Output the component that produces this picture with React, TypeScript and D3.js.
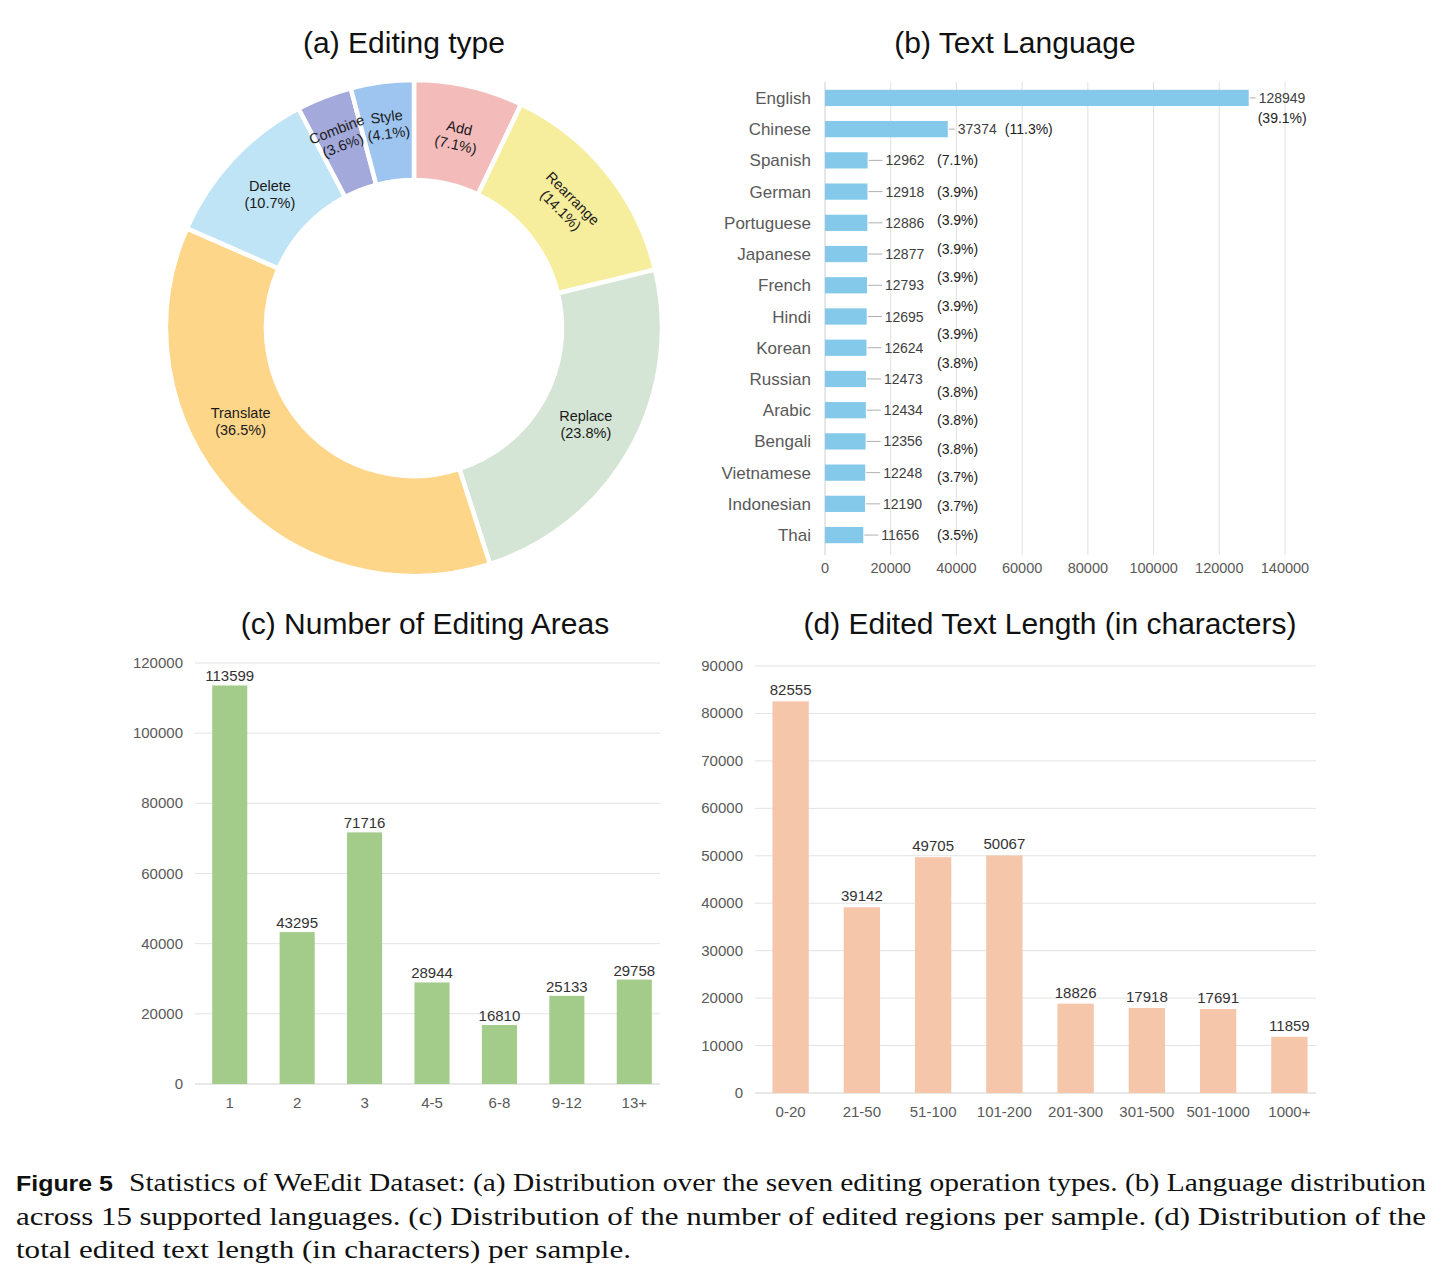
import React from 'react';
import * as d3 from 'd3';

// (a) editing operation types, clockwise from 12 o'clock
const editTypes = ['Add', 'Rearrange', 'Replace', 'Translate', 'Delete', 'Combine', 'Style'];
const editShares = [7.1, 14.1, 23.8, 36.5, 10.7, 3.6, 4.1];
const editColors = ['#f4bbbb', '#f6ed9d', '#d4e5d5', '#fed68a', '#bfe4f5', '#a3a9da', '#9ec4f0'];

// (b) text language
const languages = ['English', 'Chinese', 'Spanish', 'German', 'Portuguese', 'Japanese', 'French', 'Hindi',
  'Korean', 'Russian', 'Arabic', 'Bengali', 'Vietnamese', 'Indonesian', 'Thai'];
const langCounts = [128949, 37374, 12962, 12918, 12886, 12877, 12793, 12695, 12624, 12473, 12434, 12356, 12248, 12190, 11656];
const langPctTop = ['(39.1%)', '(11.3%)'];
const langPctRest = ['(7.1%)', '(3.9%)', '(3.9%)', '(3.9%)', '(3.9%)', '(3.9%)', '(3.9%)',
  '(3.8%)', '(3.8%)', '(3.8%)', '(3.8%)', '(3.7%)', '(3.7%)', '(3.5%)'];
const langTicks = [0, 20000, 40000, 60000, 80000, 100000, 120000, 140000];

// (c) number of editing areas
const areaBins = ['1', '2', '3', '4-5', '6-8', '9-12', '13+'];
const areaCounts = [113599, 43295, 71716, 28944, 16810, 25133, 29758];
const areaTicks = [0, 20000, 40000, 60000, 80000, 100000, 120000];

// (d) edited text length
const lenBins = ['0-20', '21-50', '51-100', '101-200', '201-300', '301-500', '501-1000', '1000+'];
const lenCounts = [82555, 39142, 49705, 50067, 18826, 17918, 17691, 11859];
const lenTicks = [0, 10000, 20000, 30000, 40000, 50000, 60000, 70000, 80000, 90000];

const SANS = '"Liberation Sans", Arial, sans-serif';
const SERIF = '"Liberation Serif", "Times New Roman", serif';
const TITLE_SIZE = 30;

function Donut() {
  const cx = 414, cy = 328, rOuter = 248, rInner = 148;
  const pie = d3.pie<number>().sort(null).value(d => d);
  const arcs = pie(editShares);
  const arc = d3.arc<d3.PieArcDatum<number>>().innerRadius(rInner).outerRadius(rOuter);
  const tilted = new Set(['Add', 'Rearrange', 'Combine', 'Style']);
  return (
    <g>
      <text x={404} y={53} textAnchor="middle" fontFamily={SANS} fontSize={TITLE_SIZE} fill="#111">(a) Editing type</text>
      <g transform={`translate(${cx},${cy})`}>
        {arcs.map((a, i) => (
          <path key={i} d={arc(a) || ''} fill={editColors[i]} stroke="#fff" strokeWidth={4.5} />
        ))}
        {arcs.map((a, i) => {
          const name = editTypes[i];
          let mid = (a.startAngle + a.endAngle) / 2;
          // big slice label sits further round, like the spreadsheet's best-fit
          if (name === 'Translate') mid += 0.24;
          const r = name === 'Style' || name === 'Combine' ? 205 : 197;
          const x = r * Math.sin(mid), y = -r * Math.cos(mid);
          const deg = tilted.has(name) ? ((mid * 180) / Math.PI + 180) % 360 - 180 : 0;
          const rot = name === 'Rearrange' ? 45 : deg;
          return (
            <g key={name} transform={`translate(${x},${y}) rotate(${rot})`} fontFamily={SANS} fontSize={14.5} fill="#1a1a1a" textAnchor="middle">
              <text y={-3}>{name}</text>
              <text y={14}>({editShares[i].toFixed(1)}%)</text>
            </g>
          );
        })}
      </g>
    </g>
  );
}

function LanguageBars() {
  const x = d3.scaleLinear().domain([0, 140000]).range([825, 1285]);
  const y = d3.scaleBand<string>().domain(languages).range([82, 551]).paddingInner(0.48).paddingOuter(0.25);
  const bw = y.bandwidth();
  const yc = (l: string) => (y(l) as number) + bw / 2;
  const spread = d3.scaleLinear().domain([0, 11]).range([yc('German'), yc('Indonesian') + 2]);
  const pctY = (k: number) => (k === 0 ? yc('Spanish') : k === langPctRest.length - 1 ? yc('Thai') : spread(k - 1));
  const pctColumn = 937;
  return (
    <g fontFamily={SANS}>
      <text x={1015} y={53} textAnchor="middle" fontSize={TITLE_SIZE} fill="#111">(b) Text Language</text>
      {langTicks.map(t => (
        <g key={t}>
          <line x1={x(t)} x2={x(t)} y1={82} y2={555} stroke={t === 0 ? '#cfcfcf' : '#e0e0e0'} strokeWidth={1} />
          <text x={x(t)} y={573} textAnchor="middle" fontSize={14.5} fill="#595959">{t}</text>
        </g>
      ))}
      {languages.map((l, i) => {
        const v = langCounts[i];
        const end = x(v);
        const c = yc(l);
        const gap = i < 2 ? 7 : 15;
        return (
          <g key={l}>
            <text x={811} y={c + 6} textAnchor="end" fontSize={17} fill="#595959">{l}</text>
            <rect x={x(0)} y={y(l)} width={end - x(0)} height={bw} fill="#84c9e9" />
            <line x1={end + 1} x2={end + gap} y1={c} y2={c} stroke="#b0b0b0" strokeWidth={1} />
            <text x={end + gap + 3} y={c + 5} fontSize={14} fill="#404040">{v}</text>
            {i === 0 && <text x={end + 9} y={c + 25} fontSize={14} fill="#222">{langPctTop[0]}</text>}
            {i === 1 && <text x={end + gap + 50} y={c + 5} fontSize={14} fill="#222">{langPctTop[1]}</text>}
          </g>
        );
      })}
      {langPctRest.map((p, k) => (
        <text key={k} x={pctColumn} y={pctY(k) + 5} fontSize={14} fill="#222">{p}</text>
      ))}
    </g>
  );
}

type ColumnProps = {
  title: string; titleX: number;
  bins: string[]; counts: number[]; ticks: number[];
  band: [number, number]; grid: [number, number];
  yRange: [number, number]; color: string; padding: number; labelGap: number;
};

function Columns({ title, titleX, bins, counts, ticks, band, grid, yRange, color, padding, labelGap }: ColumnProps) {
  const x = d3.scaleBand<string>().domain(bins).range(band).paddingInner(padding).paddingOuter(padding / 2);
  const y = d3.scaleLinear().domain([0, ticks[ticks.length - 1]]).range(yRange);
  const bw = x.bandwidth();
  return (
    <g fontFamily={SANS}>
      <text x={titleX} y={634} textAnchor="middle" fontSize={TITLE_SIZE} fill="#111">{title}</text>
      {ticks.map(t => (
        <g key={t}>
          <line x1={grid[0]} x2={grid[1]} y1={y(t)} y2={y(t)} stroke={t === 0 ? '#d0d0d0' : '#e3e3e3'} strokeWidth={1} />
          <text x={grid[0] - 12} y={y(t) + 5} textAnchor="end" fontSize={15} fill="#595959">{t}</text>
        </g>
      ))}
      {bins.map((b, i) => {
        const v = counts[i];
        const bx = x(b) as number;
        return (
          <g key={b}>
            <rect x={bx} y={y(v)} width={bw} height={y(0) - y(v)} fill={color} />
            <text x={bx + bw / 2} y={y(v) - labelGap} textAnchor="middle" fontSize={15} fill="#333">{v}</text>
            <text x={bx + bw / 2} y={y(0) + 24} textAnchor="middle" fontSize={15} fill="#595959">{b}</text>
          </g>
        );
      })}
    </g>
  );
}

function Caption() {
  return (
    <g fontFamily={SERIF} fontSize={25} fill="#111">
      <text x={16} y={1191} fontFamily={SANS} fontWeight="bold" fontSize={22} textLength={97} lengthAdjust="spacingAndGlyphs">Figure 5</text>
      <text x={129} y={1191} textLength={1297} lengthAdjust="spacingAndGlyphs">
        Statistics of WeEdit Dataset: (a) Distribution over the seven editing operation types. (b) Language distribution
      </text>
      <text x={16} y={1225} textLength={1410} lengthAdjust="spacingAndGlyphs">
        across 15 supported languages. (c) Distribution of the number of edited regions per sample. (d) Distribution of the
      </text>
      <text x={16} y={1258} textLength={615} lengthAdjust="spacingAndGlyphs">total edited text length (in characters) per sample.</text>
    </g>
  );
}

export default function App() {
  return (
    <svg width={1442} height={1278} style={{ position: 'absolute', left: 0, top: 0, background: '#fff' }}>
      <rect width={1442} height={1278} fill="#fff" />
      <Donut />
      <LanguageBars />
      <Columns title="(c) Number of Editing Areas" titleX={425} bins={areaBins} counts={areaCounts} ticks={areaTicks}
        band={[196, 668]} grid={[195, 660]} yRange={[1084, 663]} color="#a3cb8a" padding={0.48} labelGap={4} />
      <Columns title="(d) Edited Text Length (in characters)" titleX={1050} bins={lenBins} counts={lenCounts} ticks={lenTicks}
        band={[755, 1325]} grid={[755, 1316]} yRange={[1093, 666]} color="#f6c6ab" padding={0.49} labelGap={6} />
      <Caption />
    </svg>
  );
}
